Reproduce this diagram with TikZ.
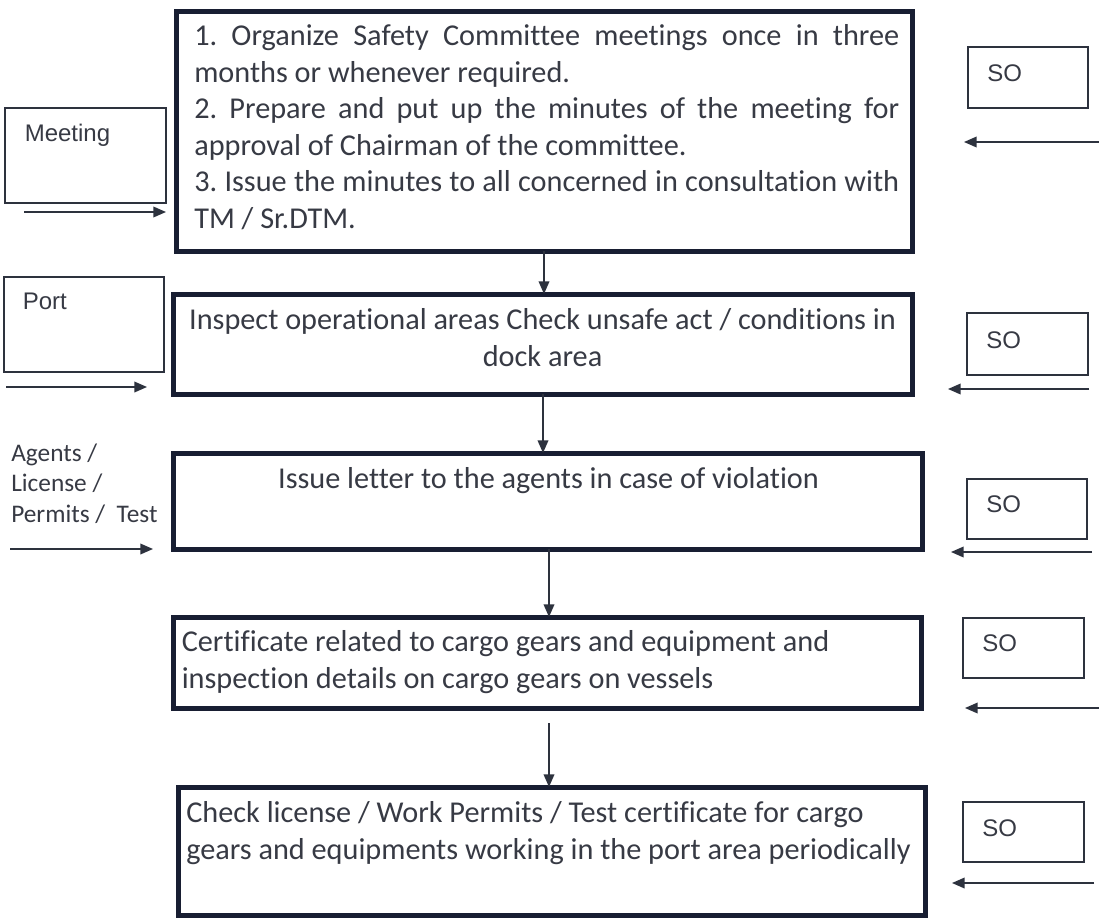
\documentclass[tikz,border=0pt]{standalone}
\usepackage{fontspec}
\setmainfont{Carlito}[Ligatures={NoCommon,NoDiscretionary,NoContextual}]
\newfontfamily\arialfont{Liberation Sans}
\usetikzlibrary{arrows.meta}
\frenchspacing
\definecolor{boxcol}{RGB}{24,30,50}
\definecolor{txtcol}{RGB}{55,58,68}
\definecolor{thincol}{RGB}{45,50,62}
\tikzset{
  mainbox/.style={draw=boxcol, line width=3.75pt, inner sep=0pt, outer sep=0pt, fill=white},
  sidebox/.style={draw=thincol, line width=1.1pt, inner sep=0pt, outer sep=0pt},
  maintext/.style={font=\fontsize{22.7pt}{27.4pt}\selectfont, text=txtcol, inner sep=0pt},
  agtext/.style={font=\fontsize{19pt}{22.9pt}\selectfont, text=txtcol, inner sep=0pt},
  sidetext/.style={font=\arialfont\fontsize{18pt}{21pt}\selectfont, text=txtcol, inner sep=0pt, anchor=base west},
  arr/.style={draw=thincol, line width=1.1pt, -{Triangle[length=9.5pt,width=8pt]}},
}
\newcommand{\natsp}{\spaceskip=\fontdimen2\font\relax\xspaceskip=\spaceskip}
\newcommand{\jline}[1]{\makebox[528.75pt][s]{\spaceskip=0pt\xspaceskip=0pt#1}}
\begin{document}
\begin{tikzpicture}[x=0.75pt,y=-0.75pt]
\fill[white] (0,0) rectangle (1099,921);
\useasboundingbox (0,0) rectangle (1099,921);

% main boxes
\node[mainbox, minimum width=552pt, minimum height=180pt] (b1) at (544,131) {};
\node[mainbox, minimum width=554.25pt, minimum height=75pt] (b2) at (542.5,344) {};
\node[mainbox, minimum width=561.75pt, minimum height=72pt] (b3) at (547.5,501) {};
\node[mainbox, minimum width=561pt, minimum height=68.25pt] (b4) at (547,662.5) {};
\node[mainbox, minimum width=560.25pt, minimum height=96pt] (b5) at (551.5,851) {};

% main texts
\node[maintext, anchor=base west, text width=540pt, align=left] (t1) at (194,45.7) {\natsp
\jline{1. Organize Safety Committee meetings once in three}\\
months or whenever required.\\
\jline{2. Prepare and put up the minutes of the meeting for}\\
approval of Chairman of the committee.\\
\jline{3. Issue the minutes to all concerned in consultation with}\\
TM / Sr.DTM.};
\node[maintext, anchor=base, text width=600pt, align=center] (t2) at (542.5,329.5)
  {\natsp Inspect operational areas Check unsafe act / conditions in\\dock area};
\node[maintext, anchor=base] (t3) at (548.5,488) {Issue letter to the agents in case of violation};
\node[maintext, anchor=base west, text width=600pt, align=left] (t4) at (181.5,651.5)
  {\natsp Certificate related to cargo gears and equipment and\\inspection details on cargo gears on vessels};
\node[maintext, anchor=base west, text width=600pt, align=left] (t5) at (186,822.5)
  {\natsp Check license / Work Permits / Test certificate for cargo\\gears and equipments working in the port area periodically};

% left side
\node[sidebox, minimum width=120.75pt, minimum height=71.25pt] (mb) at (85.5,155.5) {};
\node[sidetext] (mt) at (24.5,141.5) {Meeting};
\node[sidebox, minimum width=120pt, minimum height=71.25pt] (pb) at (84,324.5) {};
\node[sidetext] (pt) at (22.5,309.3) {Port};
\node[agtext, anchor=base west, text width=150pt, align=left] (at) at (11,461)
  {\natsp Agents /\\License /\\Permits /~~Test};

% right side SO boxes
\node[sidebox, minimum width=90pt, minimum height=45.75pt] (s1) at (1028,77.5) {};
\node[sidetext] (s1t) at (987,81) {SO};
\node[sidebox, minimum width=90.75pt, minimum height=46.5pt] (s2) at (1027.5,344) {};
\node[sidetext] (s2t) at (986,348.5) {SO};
\node[sidebox, minimum width=90pt, minimum height=45pt] (s3) at (1027,509) {};
\node[sidetext] (s3t) at (986,512.7) {SO};
\node[sidebox, minimum width=90.75pt, minimum height=45pt] (s4) at (1023.5,648) {};
\node[sidetext] (s4t) at (982,651.7) {SO};
\node[sidebox, minimum width=90.75pt, minimum height=45pt] (s5) at (1023.5,832) {};
\node[sidetext] (s5t) at (982,836) {SO};

% free arrow ends
\coordinate (l1s) at (24,212);   \coordinate (l1e) at (166,212);
\coordinate (l2s) at (6,387);    \coordinate (l2e) at (147,387);
\coordinate (l3s) at (10,549);   \coordinate (l3e) at (153,549);
\coordinate (r1s) at (1099,142); \coordinate (r1e) at (964,142);
\coordinate (r2s) at (1089,389); \coordinate (r2e) at (948,389);
\coordinate (r3s) at (1092,552); \coordinate (r3e) at (951,552);
\coordinate (r4s) at (1099,708); \coordinate (r4e) at (965,708);
\coordinate (r5s) at (1094,883); \coordinate (r5e) at (952,883);
\coordinate (v1) at (544,0);
\coordinate (v2) at (543,0);
\coordinate (v3) at (549,0);
\coordinate (v4s) at (549,723);

\draw[arr] (l1s) -- (l1e);
\draw[arr] (l2s) -- (l2e);
\draw[arr] (l3s) -- (l3e);
\draw[arr] (r1s) -- (r1e);
\draw[arr] (r2s) -- (r2e);
\draw[arr] (r3s) -- (r3e);
\draw[arr] (r4s) -- (r4e);
\draw[arr] (r5s) -- (r5e);

% vertical flow arrows
\draw[arr] (b1.south -| v1) -- (b2.north -| v1);
\draw[arr] (b2.south -| v2) -- (b3.north -| v2);
\draw[arr] (b3.south -| v3) -- (b4.north -| v3);
\draw[arr] (v4s) -- (v4s |- b5.north);
\end{tikzpicture}
\end{document}
